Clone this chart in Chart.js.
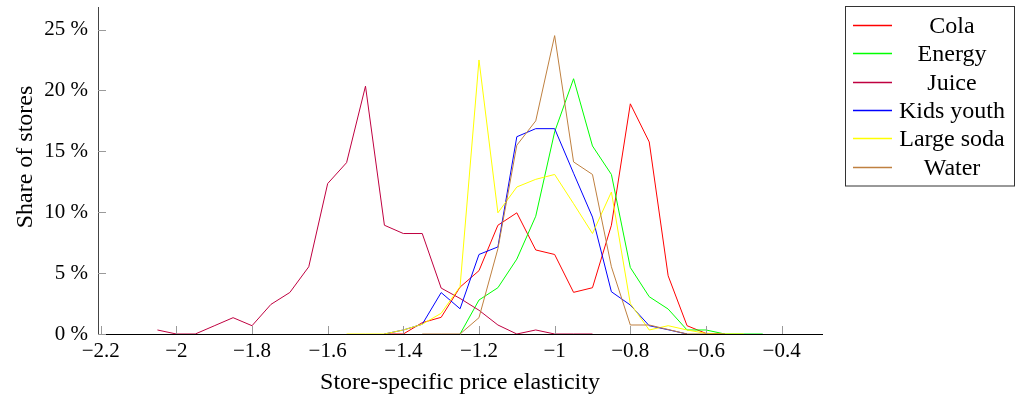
<!DOCTYPE html>
<html>
<head>
<meta charset="utf-8">
<script src="https://cdn.jsdelivr.net/npm/chart.js@4.4.1/dist/chart.umd.min.js"></script>
<style>
  html, body { margin: 0; padding: 0; background: #ffffff; }
  #wrap { position: relative; width: 1016px; height: 399px; }
  canvas { display: block; }
</style>
</head>
<body>
<div id="wrap"><canvas id="c" width="1016" height="399"></canvas></div>
<script>
// ---- data ----
const xTicks = [-2.2, -2.0, -1.8, -1.6, -1.4, -1.2, -1.0, -0.8, -0.6, -0.4];
const yTicks = [0, 5, 10, 15, 20, 25];
const seriesNames = ['Cola', 'Energy', 'Juice', 'Kids youth', 'Large soda', 'Water'];
const seriesColors = ['#ff0000', '#00ff00', '#bf0040', '#0000ff', '#ffff00', '#bf8040'];

const colaX = [-1.45, -1.40, -1.35, -1.30, -1.25, -1.20, -1.15, -1.10, -1.05, -1.00, -0.95, -0.90, -0.85, -0.80, -0.75, -0.70, -0.65, -0.60, -0.55];
const colaY = [0, 0, 0.93, 1.37, 3.85, 5.2, 8.93, 9.95, 6.9, 6.53, 3.42, 3.8, 8.93, 18.9, 15.77, 4.78, 0.68, 0.05, 0];

const energyX = [-1.25, -1.20, -1.15, -1.10, -1.05, -1.00, -0.95, -0.90, -0.85, -0.80, -0.75, -0.70, -0.65, -0.60, -0.55, -0.50, -0.45];
const energyY = [0, 2.79, 3.8, 6.15, 9.67, 16.6, 20.96, 15.44, 13.1, 5.46, 3.06, 2.05, 0.33, 0.33, 0, 0, 0];

const juiceX = [-2.05, -2.00, -1.95, -1.90, -1.85, -1.80, -1.75, -1.70, -1.65, -1.60, -1.55, -1.50, -1.45, -1.40, -1.35, -1.30, -1.25, -1.20, -1.15, -1.10, -1.05, -1.00, -0.95, -0.90];
const juiceY = [0.33, 0, 0, 0.67, 1.34, 0.68, 2.43, 3.41, 5.52, 12.35, 14.07, 20.35, 8.93, 8.25, 8.25, 3.77, 2.92, 1.95, 0.74, 0, 0.33, 0, 0, 0];

const kidsX = [-1.45, -1.40, -1.35, -1.30, -1.25, -1.20, -1.15, -1.10, -1.05, -1.00, -0.95, -0.90, -0.85, -0.80, -0.75, -0.70, -0.65];
const kidsY = [0, 0.33, 0.8, 3.4, 2.07, 6.53, 7.15, 16.2, 16.86, 16.86, 13.2, 9.6, 3.47, 2.38, 0.68, 0.35, 0];

const largeX = [-1.55, -1.50, -1.45, -1.40, -1.35, -1.30, -1.25, -1.20, -1.15, -1.10, -1.05, -1.00, -0.95, -0.90, -0.85, -0.80, -0.75, -0.70, -0.65, -0.60, -0.55, -0.50];
const largeY = [0, 0, 0, 0.33, 0.8, 1.7, 3.9, 22.5, 9.95, 12.07, 12.7, 13.1, 10.7, 8.25, 11.66, 2.5, 0.33, 0.68, 0.33, 0.05, 0, 0];

const waterX = [-1.35, -1.30, -1.25, -1.20, -1.15, -1.10, -1.05, -1.00, -0.95, -0.90, -0.85, -0.80, -0.75, -0.70, -0.65, -0.60, -0.55];
const waterY = [0, 0, 0, 1.34, 7.0, 15.5, 17.5, 24.5, 14.13, 13.1, 5.52, 0.74, 0.74, 0.37, 0, 0, 0];

const xTitle = 'Store-specific price elasticity';
const yTitle = 'Share of stores';

// ---- build chart ----
const seriesX = [colaX, energyX, juiceX, kidsX, largeX, waterX];
const seriesY = [colaY, energyY, juiceY, kidsY, largeY, waterY];

const FONT = "'Liberation Serif', 'Times New Roman', serif";

const datasets = seriesNames.map((name, i) => ({
  label: name,
  data: seriesX[i].map((x, j) => ({ x: x, y: seriesY[i][j] })),
  borderColor: seriesColors[i],
  backgroundColor: seriesColors[i],
  borderWidth: 1,
  pointRadius: 0,
  pointHoverRadius: 0,
  tension: 0,
  fill: false,
  order: seriesNames.length - i   // later series drawn on top
}));

function fmtX(v) {
  const r = Math.round(v * 10) / 10;
  return (r < 0 ? '\u2212' : '') + String(Math.abs(r));
}

const insideTicks = {
  id: 'insideTicks',
  afterDatasetsDraw(chart) {
    const ctx = chart.ctx;
    const xs = chart.scales.x, ys = chart.scales.y;
    const area = chart.chartArea;
    ctx.save();
    ctx.strokeStyle = '#9a9a9a';
    ctx.lineWidth = 1;
    xs.ticks.forEach(t => {
      const px = Math.round(xs.getPixelForValue(t.value)) + 0.5;
      ctx.beginPath();
      ctx.moveTo(px, area.bottom);
      ctx.lineTo(px, area.bottom - 8);
      ctx.stroke();
    });
    ys.ticks.forEach(t => {
      const py = Math.round(ys.getPixelForValue(t.value)) + 0.5;
      ctx.beginPath();
      ctx.moveTo(area.left, py);
      ctx.lineTo(area.left + 8, py);
      ctx.stroke();
    });
    ctx.restore();
  }
};

const yTitlePlugin = {
  id: 'yTitlePlugin',
  afterDraw(chart) {
    const ctx = chart.ctx;
    ctx.save();
    ctx.fillStyle = '#000';
    ctx.font = "24px " + FONT;
    ctx.textAlign = 'center';
    ctx.textBaseline = 'alphabetic';
    ctx.translate(31.5, 157);
    ctx.rotate(-Math.PI / 2);
    ctx.fillText(yTitle, 0, 0);
    ctx.restore();
  }
};

const boxLegend = {
  id: 'boxLegend',
  afterDraw(chart) {
    const ctx = chart.ctx;
    const bx = 845.5, by = 6.5, bw = 169, bh = 179.5;
    ctx.save();
    ctx.fillStyle = '#ffffff';
    ctx.fillRect(bx, by, bw, bh);
    ctx.strokeStyle = '#333333';
    ctx.lineWidth = 1;
    ctx.strokeRect(bx, by, bw, bh);
    ctx.font = "24px " + FONT;
    ctx.textAlign = 'center';
    ctx.textBaseline = 'middle';
    seriesNames.forEach((name, i) => {
      const cy = Math.round(25 + i * 28.33) + 0.5;
      ctx.strokeStyle = seriesColors[i];
      ctx.lineWidth = 1.5;
      ctx.beginPath();
      ctx.moveTo(853, cy);
      ctx.lineTo(892, cy);
      ctx.stroke();
      ctx.fillStyle = '#000';
      ctx.fillText(name, 952, cy + 1);
    });
    ctx.restore();
  }
};

new Chart(document.getElementById('c'), {
  type: 'line',
  data: { datasets: datasets },
  options: {
    responsive: false,
    animation: false,
    devicePixelRatio: 1,
    layout: { padding: { top: 7, right: 194, left: 0, bottom: 0 } },
    plugins: {
      legend: { display: false },
      tooltip: { enabled: false },
      title: { display: false }
    },
    scales: {
      x: {
        type: 'linear',
        min: -2.2071,
        max: -0.2933,
        afterBuildTicks: (scale) => { scale.ticks = xTicks.map(v => ({ value: v })); },
        afterFit: (scale) => { scale.height = 65; scale.paddingLeft = 0; scale.paddingRight = 0; },
        grid: { display: true, drawOnChartArea: false, drawTicks: false, color: 'rgba(0,0,0,0)' },
        border: { display: true, color: '#000000', width: 1 },
        ticks: {
          autoSkip: false,
          maxRotation: 0,
          minRotation: 0,
          padding: 5,
          color: '#000',
          font: { family: FONT, size: 21 },
          callback: (v) => fmtX(v)
        },
        title: {
          display: true,
          text: xTitle,
          color: '#000',
          font: { family: FONT, size: 24 },
          padding: { top: 0, bottom: 2 }
        }
      },
      y: {
        type: 'linear',
        min: 0,
        max: 26.85,
        afterBuildTicks: (scale) => { scale.ticks = yTicks.map(v => ({ value: v })); },
        afterFit: (scale) => { scale.width = 98; scale.paddingTop = 0; scale.paddingBottom = 0; },
        grid: { display: true, drawOnChartArea: false, drawTicks: false, color: 'rgba(0,0,0,0)' },
        border: { display: true, color: '#444444', width: 1 },
        ticks: {
          autoSkip: false,
          padding: 10,
          color: '#000',
          font: { family: FONT, size: 21 },
          callback: (v) => v + ' %'
        }
      }
    }
  },
  plugins: [insideTicks, yTitlePlugin, boxLegend]
});
</script>
</body>
</html>
